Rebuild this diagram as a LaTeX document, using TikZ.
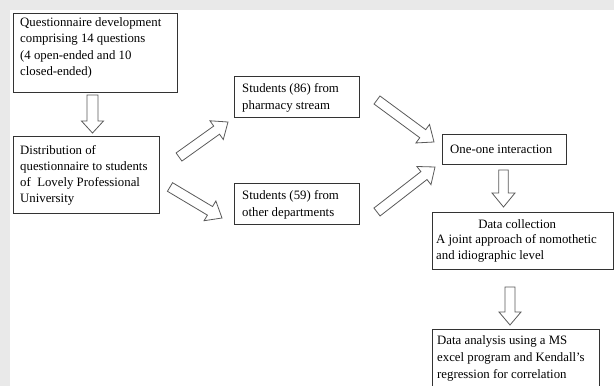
\documentclass[tikz,border=0pt]{standalone}
\usepackage{fontspec}
\setmainfont{Liberation Serif}
\usetikzlibrary{calc}
\definecolor{bggray}{HTML}{E9E9E9}
\definecolor{boxline}{HTML}{333333}
\definecolor{arrline}{HTML}{5A5A5A}
\newcommand{\blockarr}[5]{%
  \path (#1) coordinate (bt) (#2) coordinate (bp);
  \path ($(bp)!#5pt!(bt)$) coordinate (bh);
  \draw[blockarrow] ($(bt)!#3pt!90:(bp)$) -- ($(bh)!#3pt!-90:(bt)$) -- ($(bh)!#4pt!-90:(bt)$) -- (bp)
    -- ($(bh)!#4pt!90:(bt)$) -- ($(bh)!#3pt!90:(bt)$) -- ($(bt)!#3pt!-90:(bp)$) -- cycle;
}
\begin{document}
\begin{tikzpicture}[x=1pt,y=-1pt,
  boxnode/.style={draw=boxline, line width=0.8pt, inner sep=0pt, anchor=north west, fill=white},
  txt/.style={anchor=base west, align=left, inner sep=0pt, font=\fontsize{12.8pt}{#1}\selectfont},
  blockarrow/.style={draw=arrline, line width=0.8pt, fill=white, line join=miter}]
\useasboundingbox (0,0) rectangle (614,386);
\clip (0,0) rectangle (614,386);
\fill[bggray] (0,0) rectangle (614,386);
\fill[white] (10,10) rectangle (614,386);
% boxes
\node[boxnode, minimum width=164pt, minimum height=79pt] (b1) at (13,13) {};
\node[boxnode, minimum width=146pt, minimum height=77pt] (b2) at (13,136) {};
\node[boxnode, minimum width=125pt, minimum height=41pt] (b3) at (234,76) {};
\node[boxnode, minimum width=125pt, minimum height=41pt] (b4) at (234,183) {};
\node[boxnode, minimum width=124pt, minimum height=30pt] (b5) at (442,134) {};
\node[boxnode, minimum width=181pt, minimum height=57pt] (b6) at (432,212) {};
\node[boxnode, minimum width=167pt, minimum height=75pt] (b7) at (432,329) {};
% texts (anchored at the baseline of the last line)
\node[txt=16.3pt] (t1) at (20,75.4) {Questionnaire development\\comprising 14 questions\\(4 open-ended and 10\\closed-ended)};
\node[txt=16pt] (t2) at (20,202) {Distribution of\\questionnaire to students\\of\ \ Lovely Professional\\University};
\node[txt=17.5pt] (t3) at (242,109.5) {Students (86) from\\pharmacy stream};
\node[txt=17pt] (t4) at (242,216) {Students (59) from\\other departments};
\node[txt=16pt] (t5) at (450,153) {One-one interaction};
\node[txt=15.5pt] (t6) at (436,259) {\makebox[162pt][c]{Data collection}\\A joint approach of nomothetic\\and idiographic level};
\node[txt=17.3pt] (t7) at (437,378.6) {Data analysis using a MS\\excel program and Kendall’s\\regression for correlation};
% arrow end points
\coordinate (a1s) at (92.5,95);  \coordinate (a1e) at (92.5,133);
\coordinate (a2s) at (179,157);  \coordinate (a2e) at (228,122);
\coordinate (a3s) at (170,187);  \coordinate (a3e) at (222,218);
\coordinate (a4s) at (377,100);  \coordinate (a4e) at (434,142);
\coordinate (a5s) at (377,212);  \coordinate (a5e) at (435,167);
\coordinate (a6s) at (503.5,170); \coordinate (a6e) at (503.5,207);
\coordinate (a7s) at (510,287);  \coordinate (a7e) at (510,325);
% block arrows
\blockarr{a1s}{a1e}{5.5}{11}{12}
\blockarr{a2s}{a2e}{5}{11.5}{14}
\blockarr{a3s}{a3e}{5}{11.5}{14}
\blockarr{a4s}{a4e}{5}{11.5}{14}
\blockarr{a5s}{a5e}{5}{11.5}{14}
\blockarr{a6s}{a6e}{4.8}{11.5}{14}
\blockarr{a7s}{a7e}{5}{11}{13}
\end{tikzpicture}
\end{document}
